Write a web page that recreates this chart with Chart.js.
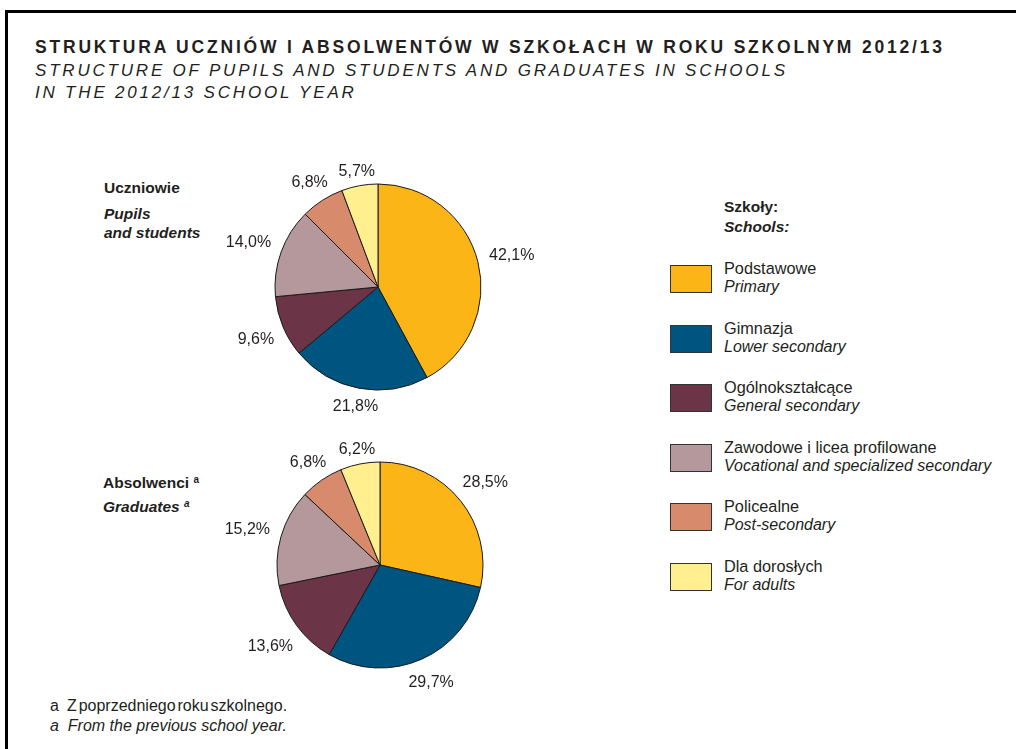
<!DOCTYPE html>
<html>
<head>
<meta charset="utf-8">
<script src="https://cdn.jsdelivr.net/npm/chart.js@4"></script>
<style>
  body { margin: 0; width: 1016px; height: 749px; overflow: hidden; position: relative; background: #fff;
         font-family: "Liberation Sans", Arial, sans-serif; color: #231f20; }
  .frame { position: absolute; left: 5px; top: 10px; width: 1020px; height: 750px;
           border-top: 3px solid #000; border-left: 3px solid #000; }
  .t { position: absolute; white-space: nowrap; line-height: 1; font-size: 15.5px; }
  .title { font-size: 17.5px; font-weight: bold; letter-spacing: 2.8px; }
  .sub { font-size: 17px; font-style: italic; letter-spacing: 2.8px; }
  .b { font-weight: bold; }
  .i { font-style: italic; }
  .lg { font-size: 16.3px; }
  .lg.i { font-size: 16px; }
  .foot { font-size: 16px; }
  sup { font-size: 10px; vertical-align: 5px; line-height: 0; }
  .box { position: absolute; left: 670px; width: 40px; height: 26px; border: 1px solid #333; }
  canvas { position: absolute; }
</style>
</head>
<body>
<div class="frame"></div>

<div class="t title" style="left:35px; top:39px">STRUKTURA UCZNIÓW I ABSOLWENTÓW W SZKOŁACH W ROKU SZKOLNYM 2012/13</div>
<div class="t sub" style="left:35px; top:62px">STRUCTURE OF PUPILS AND STUDENTS AND GRADUATES IN SCHOOLS</div>
<div class="t sub" style="left:35px; top:84px">IN THE 2012/13 SCHOOL YEAR</div>

<div class="t b" style="left:104px; top:180px">Uczniowie</div>
<div class="t b i" style="left:104px; top:206px">Pupils</div>
<div class="t b i" style="left:104px; top:225px">and students</div>
<div class="t b" style="left:103px; top:475px">Absolwenci <sup>a</sup></div>
<div class="t b i" style="left:103px; top:499px">Graduates <sup>a</sup></div>

<div class="t b" style="left:724px; top:199px">Szkoły:</div>
<div class="t b i" style="left:724px; top:219px">Schools:</div>
<div id="legend"></div>

<div class="t foot" style="left:50px; top:698px">a<span style="margin-left:8px; word-spacing:-2.5px">Z poprzedniego roku szkolnego.</span></div>
<div class="t foot i" style="left:50px; top:718px">a&nbsp;&nbsp;From the previous school year.</div>

<canvas id="pupilsPie" width="340" height="290" style="left:208px; top:142px"></canvas>
<canvas id="gradPie" width="340" height="290" style="left:210px; top:420px"></canvas>

<script>
const categoriesPl = ["Podstawowe", "Gimnazja", "Ogólnokształcące", "Zawodowe i licea profilowane", "Policealne", "Dla dorosłych"];
const categoriesEn = ["Primary", "Lower secondary", "General secondary", "Vocational and specialized secondary", "Post-secondary", "For adults"];
const pupils = [42.1, 21.8, 9.6, 14.0, 6.8, 5.7];
const graduates = [28.5, 29.7, 13.6, 15.2, 6.8, 6.2];
const colors = ["#fbb517", "#005480", "#6b3447", "#b4989c", "#d78a6c", "#ffef8e"];

// legend built from the category lists
const legend = document.getElementById("legend");
categoriesPl.forEach((name, i) => {
  const y = 265 + i * 59.6;
  legend.innerHTML +=
    `<div class="box" style="top:${y}px; background:${colors[i]}"></div>` +
    `<div class="t lg" style="left:724px; top:${y - 5}px">${name}</div>` +
    `<div class="t lg i" style="left:724px; top:${y + 14}px">${categoriesEn[i]}</div>`;
});

// percent labels placed just outside each slice
const outsideLabels = {
  id: "outsideLabels",
  afterDatasetsDraw(chart) {
    const ctx = chart.ctx;
    const values = chart.data.datasets[0].data;
    ctx.save();
    ctx.font = "16px 'Liberation Sans', Arial, sans-serif";
    ctx.fillStyle = "#231f20";
    ctx.textAlign = "center";
    ctx.textBaseline = "middle";
    chart.getDatasetMeta(0).data.forEach((arc, i) => {
      const p = arc.getProps(["x", "y", "startAngle", "endAngle", "outerRadius"], true);
      const mid = (p.startAngle + p.endAngle) / 2;
      const txt = values[i].toFixed(1).replace(".", ",") + "%";
      const hw = ctx.measureText(txt).width / 2;
      const c = Math.cos(mid), s = Math.sin(mid);
      const d = p.outerRadius + 6 + Math.abs(c) * hw * 1.25 + Math.abs(s) * 6;
      ctx.fillText(txt, p.x + c * d, p.y + s * d + 2);
    });
    ctx.restore();
  }
};

function makePie(id, values) {
  return new Chart(document.getElementById(id), {
    type: "pie",
    data: {
      labels: categoriesPl,
      datasets: [{
        data: values,
        backgroundColor: colors,
        borderColor: "#1a1a1a",
        borderWidth: 1,
        radius: 103
      }]
    },
    options: {
      responsive: false,
      animation: false,
      events: [],
      layout: { padding: 0 },
      plugins: { legend: { display: false }, tooltip: { enabled: false } }
    },
    plugins: [outsideLabels]
  });
}

makePie("pupilsPie", pupils);
makePie("gradPie", graduates);
</script>
</body>
</html>
